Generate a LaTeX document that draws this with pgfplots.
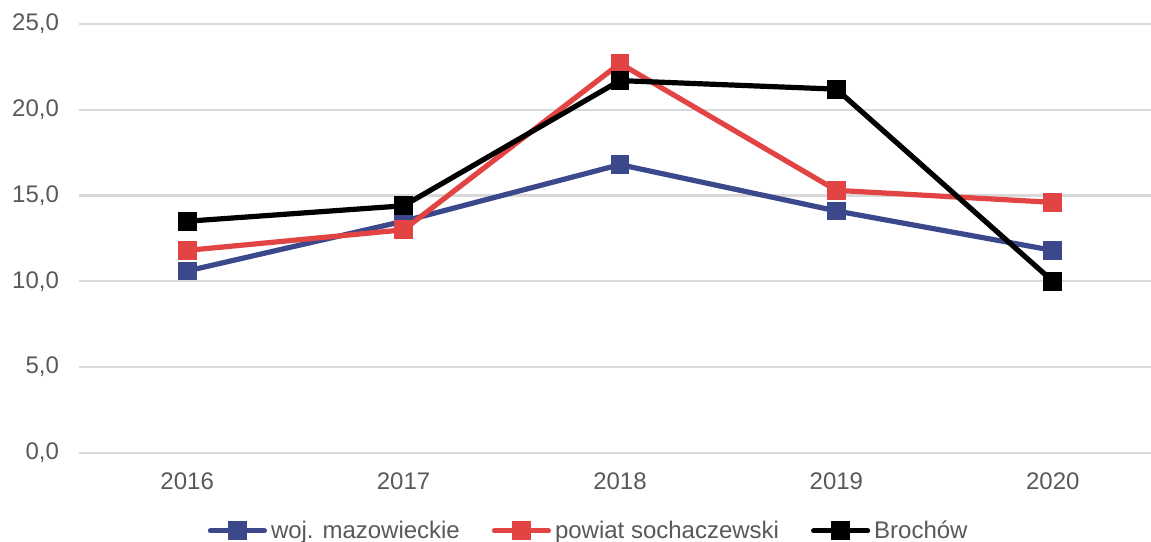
\documentclass[border=0pt]{standalone}
\usepackage{fontspec}
\setmainfont{Liberation Sans}
\usepackage{pgfplots}
\pgfplotsset{compat=1.18}

\definecolor{cblue}{RGB}{59,72,140}
\definecolor{cred}{RGB}{226,67,67}
\definecolor{cgrid}{RGB}{217,217,217}
\definecolor{ctext}{RGB}{89,89,89}

\begin{document}
\begin{tikzpicture}
\begin{axis}[
    name=ax,
    scale only axis,
    width=541.25pt, height=214.5pt,
    xmin=2015.5, xmax=2020.5,
    ymin=0, ymax=25,
    xtick={2016,2017,2018,2019,2020},
    ytick={0,5,10,15,20,25},
    xticklabel style={/pgf/number format/1000 sep={}},
    yticklabel style={/pgf/number format/.cd,fixed,fixed zerofill,precision=1,use comma},
    /pgf/number format/assume math mode=true,
    tick label style={font=\fontsize{12}{14}\selectfont, text=ctext},
    xtick style={draw=none}, ytick style={draw=none},
    axis line style={draw=none},
    ymajorgrids, major grid style={cgrid, line width=1.2pt},
    yticklabel shift=6.5pt,
    xticklabel shift=6.5pt,
    every axis plot/.append style={line width=2.6pt, mark=square*, mark size=3.4pt, mark options={solid}},
    legend columns=3,
    legend style={at={(0.472,-0.182)}, anchor=center, draw=none,
        font=\fontsize{12}{14}\selectfont, text=ctext,
        /tikz/every even column/.append style={column sep=14pt}},
    legend image code/.code={
        \draw[#1, line cap=round, mark repeat=2, mark phase=2]
        plot coordinates {(0pt,0pt) (13.5pt,0pt) (27pt,0pt)};},
]
\addplot[cblue] coordinates {(2016,10.6) (2017,13.5) (2018,16.8) (2019,14.1) (2020,11.8)};
\addlegendentry{woj. mazowieckie}
\addplot[cred] coordinates {(2016,11.8) (2017,13.0) (2018,22.7) (2019,15.3) (2020,14.6)};
\addlegendentry{powiat sochaczewski}
\addplot[black] coordinates {(2016,13.5) (2017,14.4) (2018,21.7) (2019,21.2) (2020,10.0)};
\addlegendentry{Brochów}
\end{axis}
\pgfresetboundingbox
\path ([shift={(-39.5pt,-44.5pt)}]ax.south west) rectangle ([shift={(-5pt,12pt)}]ax.north east);
\end{tikzpicture}
\end{document}
